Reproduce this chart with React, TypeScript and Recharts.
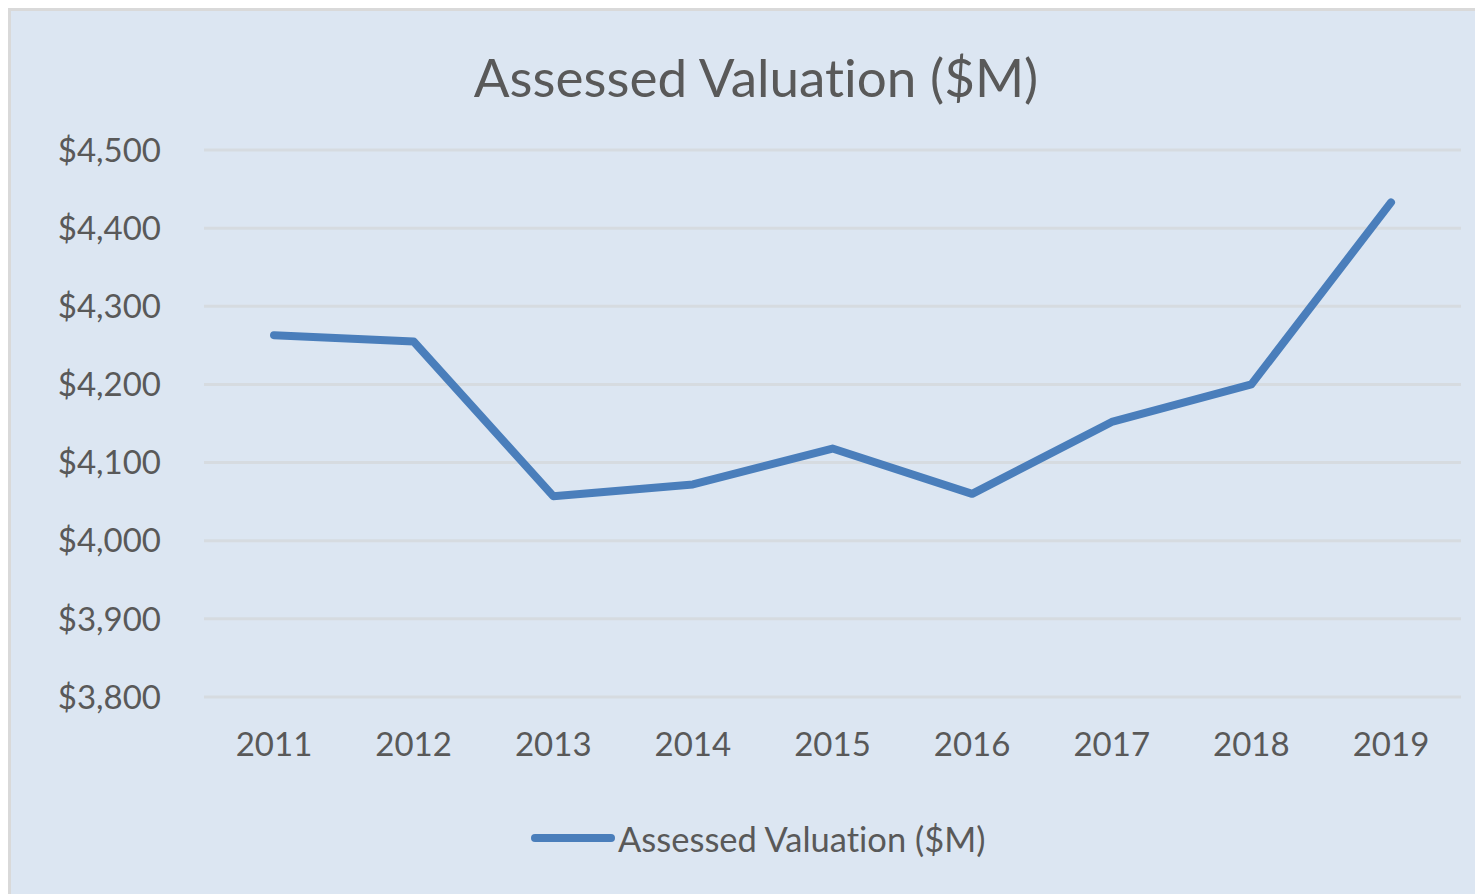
import React from "react";
import { LineChart, Line, XAxis, YAxis, CartesianGrid } from "recharts";

const years = ["2011", "2012", "2013", "2014", "2015", "2016", "2017", "2018", "2019"];
const valuation = [4263, 4255, 4057, 4072, 4118, 4060, 4152, 4200, 4433];
const yTicks = [3800, 3900, 4000, 4100, 4200, 4300, 4400, 4500];
const seriesName = "Assessed Valuation ($M)";
const titleText = "Assessed Valuation ($M)";

const data = years.map((y, i) => ({ year: y, value: valuation[i] }));

const FONT = "Lato, 'Open Sans', 'Liberation Sans', sans-serif";
const TEXT = "#595959";
const LINE = "#4a7ebb";

const fmt = (v: number) => "$" + String(v).replace(/\B(?=(\d{3})+(?!\d))/g, ",");

export default function App() {
  return (
    <div
      style={{
        position: "relative",
        width: 1475,
        height: 886,
        boxSizing: "border-box",
        borderTop: "3px solid #d9d9d9",
        borderLeft: "3px solid #d9d9d9",
        background: "#dce6f2",
        overflow: "hidden",
        fontVariantLigatures: "none",
      }}
    >
      <div
        style={{
          position: "absolute",
          left: 0,
          width: 1490,
          top: 36,
          textAlign: "center",
          fontFamily: FONT,
          fontSize: 53,
          color: TEXT,
          lineHeight: "60px",
        }}
      >
        {titleText}
      </div>
      <LineChart
        width={1472}
        height={883}
        data={data}
        margin={{ top: 139, right: 22, bottom: 167, left: 0 }}
        style={{ fontVariantLigatures: "none" }}
      >
        <CartesianGrid vertical={false} stroke="#d6dbe0" strokeWidth={3} />
        <XAxis
          dataKey="year"
          height={30}
          axisLine={false}
          tickLine={false}
          tickSize={0}
          tickMargin={36}
          padding={{ left: 70, right: 70 }}
          tick={{ fill: TEXT, fontSize: 33, fontFamily: FONT }}
        />
        <YAxis
          width={193}
          domain={[3800, 4500]}
          ticks={yTicks}
          axisLine={false}
          tickLine={false}
          tickSize={0}
          tickMargin={43}
          tickFormatter={fmt}
          tick={{ fill: TEXT, fontSize: 33, fontFamily: FONT }}
        />
        <Line
          type="linear"
          dataKey="value"
          name={seriesName}
          stroke={LINE}
          strokeWidth={8}
          strokeLinecap="round"
          strokeLinejoin="round"
          dot={false}
          activeDot={false}
          isAnimationActive={false}
        />
      </LineChart>
      <div
        style={{
          position: "absolute",
          left: 519,
          top: 807,
          height: 40,
          display: "flex",
          alignItems: "center",
        }}
      >
        <svg width={86} height={12} style={{ display: "block" }}>
          <line x1={5} y1={6} x2={81} y2={6} stroke={LINE} strokeWidth={8} strokeLinecap="round" />
        </svg>
        <span style={{ fontFamily: FONT, fontSize: 34.5, color: TEXT, marginLeft: 2, whiteSpace: "nowrap" }}>
          {seriesName}
        </span>
      </div>
    </div>
  );
}
